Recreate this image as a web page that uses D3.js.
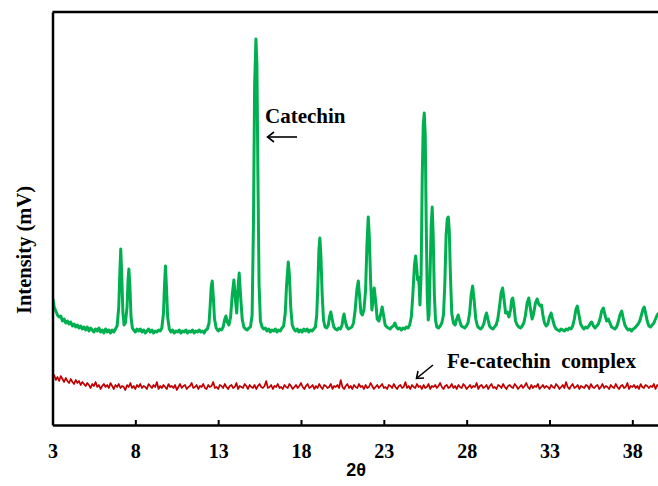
<!DOCTYPE html>
<html><head><meta charset="utf-8">
<script src="https://cdn.jsdelivr.net/npm/d3@7"></script>
<style>
html,body{margin:0;padding:0;background:#fff;}
svg{display:block;}
</style></head>
<body>
<svg id="chart" width="658" height="486"></svg>
<script>
// ---- data ----
const xTickValues = [3, 8, 13, 18, 23, 28, 33, 38];
const xDomain = [3, 39.55];
const yDomain = [0, 413];
const seriesNames = ["Catechin", "Fe-catechin  complex"];

// Catechin pattern: [2θ, intensity]
const catechin = [
[3.0,127],[3.05,124],[3.1,118],[3.2,114],[3.3,110],[3.4,108],[3.5,109],[3.6,104],[3.7,106],[3.8,102],[3.9,104],[4.0,101],[4.1,103],[4.2,99],[4.3,101],[4.4,98],[4.5,100],[4.6,97],[4.7,99],[4.8,96],[4.9,98],[5.0,95],[5.1,98],[5.2,94],[5.3,97],[5.4,95],[5.5,93],[5.6,96],[5.7,94],[5.8,97],[5.9,93],[6.0,95],[6.1,92],[6.2,96],[6.3,93],[6.4,95],[6.5,92],[6.6,95],[6.7,93],[6.8,96],[6.9,99],
[7.0,118],[7.06,150],[7.12,176],[7.18,150],[7.25,112],[7.32,100],[7.4,102],[7.5,118],[7.56,145],[7.61,156],[7.67,140],[7.74,108],[7.82,97],[7.9,95],[8.0,93],[8.1,96],[8.2,94],[8.3,96],[8.4,93],[8.5,95],[8.6,92],[8.7,94],[8.8,96],[8.9,93],[9.0,95],[9.1,92],[9.2,94],[9.3,93],[9.4,95],[9.5,94],[9.6,97],
[9.7,112],[9.76,140],[9.82,159],[9.88,138],[9.95,108],[10.05,96],[10.15,93],[10.25,95],[10.35,92],[10.45,94],[10.55,93],[10.65,95],[10.75,92],[10.85,94],[10.95,93],[11.05,95],[11.15,92],[11.25,94],[11.35,93],[11.45,95],[11.55,92],[11.65,94],[11.75,93],[11.85,95],[11.95,93],[12.05,94],[12.15,92],[12.25,95],[12.35,96],
[12.45,102],[12.52,120],[12.58,138],[12.64,144],[12.7,130],[12.78,106],[12.88,97],[13.0,94],[13.1,96],[13.2,95],[13.3,98],[13.4,106],[13.47,109],[13.55,103],[13.65,100],[13.75,108],[13.85,130],[13.95,145],[14.05,124],[14.12,112],[14.2,138],[14.27,152],[14.35,130],[14.45,106],[14.55,98],[14.65,96],[14.75,95],[14.85,97],[14.95,98],
[15.05,110],[15.13,200],[15.2,340],[15.28,386],[15.34,360],[15.4,250],[15.47,140],[15.55,104],[15.65,98],[15.75,96],[15.85,97],[15.95,94],[16.05,96],[16.15,93],[16.25,95],[16.35,94],[16.45,96],[16.55,93],[16.65,95],[16.75,94],[16.85,97],[16.95,99],
[17.05,112],[17.13,140],[17.23,163],[17.3,150],[17.38,118],[17.47,100],[17.57,96],[17.67,94],[17.77,96],[17.87,93],[17.97,95],[18.07,93],[18.17,96],[18.27,94],[18.37,96],[18.47,93],[18.57,95],[18.67,94],[18.77,96],[18.87,98],
[18.95,110],[19.02,140],[19.08,175],[19.14,187],[19.2,170],[19.28,130],[19.36,105],[19.45,98],[19.55,97],[19.65,100],[19.72,108],[19.8,113],[19.88,106],[19.98,98],[20.08,96],[20.18,95],[20.28,97],[20.38,96],[20.48,100],[20.55,108],[20.6,111],[20.67,104],[20.77,98],[20.87,96],[20.97,97],[21.07,98],
[21.17,102],[21.27,115],[21.37,135],[21.46,144],[21.54,128],[21.62,112],[21.7,110],[21.8,115],[21.9,135],[21.98,180],[22.06,208],[22.12,190],[22.2,145],[22.28,115],[22.35,125],[22.42,137],[22.5,125],[22.6,106],[22.7,104],[22.8,110],[22.9,118],[22.98,110],[23.08,100],[23.18,98],[23.28,97],[23.38,96],[23.48,98],[23.58,99],[23.67,102],[23.76,98],[23.86,96],[23.96,97],[24.06,95],[24.16,97],[24.26,96],[24.36,98],[24.46,97],[24.56,100],
[24.66,108],[24.75,130],[24.85,160],[24.92,169],[24.98,158],[25.04,145],[25.08,148],[25.13,140],[25.18,120],[25.25,150],[25.32,250],[25.38,300],[25.44,312],[25.5,290],[25.56,200],[25.62,130],[25.68,105],[25.73,110],[25.79,150],[25.86,200],[25.92,218],[25.98,190],[26.05,130],[26.12,105],[26.2,98],[26.3,97],[26.4,99],[26.5,102],
[26.6,110],[26.68,140],[26.76,190],[26.83,206],[26.89,208],[26.95,195],[27.02,150],[27.1,112],[27.2,102],[27.3,100],[27.4,106],[27.49,110],[27.58,104],[27.68,99],[27.78,98],[27.88,97],[27.98,99],[28.08,102],[28.18,112],[28.27,130],[28.36,139],[28.45,125],[28.55,106],[28.65,99],[28.75,97],[28.85,96],[28.95,98],[29.05,102],[29.12,108],[29.2,112],[29.28,106],[29.38,99],[29.48,97],[29.58,96],[29.68,98],[29.78,100],
[29.88,106],[29.98,118],[30.08,132],[30.17,137],[30.26,125],[30.35,112],[30.45,113],[30.55,108],[30.65,115],[30.72,125],[30.78,127],[30.86,118],[30.95,104],[31.05,100],[31.15,98],[31.25,97],[31.35,99],[31.45,102],[31.55,110],[31.65,122],[31.75,127],[31.85,116],[31.95,106],[32.05,112],[32.15,122],[32.25,126],[32.35,121],[32.45,119],[32.52,120],[32.6,110],[32.7,102],[32.8,99],[32.9,101],[33.0,108],[33.1,112],[33.2,105],[33.3,99],
[33.4,96],[33.5,95],[33.6,94],[33.7,96],[33.8,95],[33.9,94],[34.0,96],[34.1,95],[34.2,97],[34.3,96],[34.4,99],[34.5,106],[34.6,116],[34.68,119],[34.78,110],[34.88,101],[34.98,98],[35.08,96],[35.18,98],[35.28,97],[35.38,99],[35.48,102],[35.55,103],[35.65,99],[35.75,97],[35.85,99],[35.95,101],[36.05,106],[36.15,114],[36.25,117],[36.35,110],[36.45,104],[36.55,106],[36.65,102],[36.75,98],[36.85,97],[36.95,96],
[37.05,98],[37.15,103],[37.25,110],[37.36,114],[37.45,107],[37.55,100],[37.65,97],[37.75,95],[37.85,96],[37.95,94],[38.05,96],[38.15,97],[38.25,99],[38.35,101],[38.45,104],[38.55,110],[38.65,116],[38.72,118],[38.8,112],[38.9,104],[39.0,99],[39.1,98],[39.2,100],[39.3,102],[39.4,106],[39.5,110],[39.6,112]
];

// Fe-catechin complex: uniformly sampled readings (step 0.1 from 3.0)
const complexStart = 3.0;
const complexStep = 0.1;
const complexValues = [
46,50,45,48,44,49,46,43,47,44,42,46,43,41,45,42,44,40,43,41,
39,42,40,37,41,39,43,38,40,36,39,41,38,40,37,42,39,36,40,38,
41,37,39,38,35,40,38,42,37,39,36,40,38,41,37,39,38,36,41,39,
37,40,38,43,36,39,37,40,38,36,41,38,39,37,40,35,38,41,37,39,
40,36,38,39,42,37,38,40,36,39,38,41,37,36,40,38,39,43,37,38,
36,40,39,37,41,38,36,39,40,37,38,42,36,39,38,37,41,39,36,40,
38,37,40,36,39,41,38,37,39,44,37,38,40,36,39,38,41,37,38,36,
40,38,37,41,39,36,38,40,37,39,42,38,36,39,41,37,38,40,36,39,
37,41,38,36,40,39,37,38,41,36,39,38,40,37,45,38,36,39,41,37,
39,36,40,38,37,41,38,39,36,40,37,38,42,39,36,38,40,37,39,41,
37,38,36,40,39,37,41,38,36,39,40,37,38,43,37,39,36,40,38,37,
41,38,39,36,40,37,38,41,36,39,38,40,37,39,42,38,36,39,40,37,
38,41,37,39,36,40,38,37,41,39,36,38,40,37,39,38,42,36,39,40,
37,38,40,36,39,41,37,38,36,40,39,37,41,38,36,39,40,38,37,41,
39,36,38,40,37,39,42,38,36,40,37,39,38,41,36,38,40,37,39,38,
36,40,38,37,41,39,36,38,40,37,43,38,36,39,41,37,38,40,36,39,
38,37,40,39,36,41,38,37,39,40,36,38,41,37,39,38,36,40,38,37,
41,38,36,39,40,37,38,42,36,39,38,40,37,39,36,41,38,37,40,39,
37,39,38,41,36,40,38,37,39,36
];

// ---- drawing ----
const svg = d3.select("#chart");
const x = d3.scaleLinear().domain(xDomain).range([52.5, 658]);
const y = d3.scaleLinear().domain(yDomain).range([425, 12]);

const defs = svg.append("defs");
defs.append("clipPath").attr("id","plotclip")
  .append("rect").attr("x",53).attr("y",12).attr("width",610).attr("height",413);

const line = d3.line().x(d => x(d[0])).y(d => y(d[1])).curve(d3.curveLinear);

const complexData = complexValues.map((v,i) => [complexStart + i*complexStep, v]);

const g = svg.append("g").attr("clip-path","url(#plotclip)");
g.append("path").datum(complexData).attr("d", line)
  .attr("fill","none").attr("stroke","#C00000").attr("stroke-width",1.7).attr("stroke-linejoin","round");
g.append("path").datum(catechin).attr("d", line)
  .attr("fill","none").attr("stroke","#00B050").attr("stroke-width",3).attr("stroke-linejoin","round");

// top border
svg.append("line").attr("x1",x(xDomain[0])).attr("x2",658).attr("y1",y(yDomain[1])).attr("y2",y(yDomain[1]))
  .attr("stroke","#000").attr("stroke-width",2.5);

// x axis
const serif = "'Liberation Serif', 'Times New Roman', serif";
const xAxis = d3.axisBottom(x).tickValues(xTickValues).tickFormat(d3.format("d"))
  .tickSizeInner(-5).tickSizeOuter(0).tickPadding(19);
const xg = svg.append("g").attr("transform","translate(0,425)").call(xAxis);
xg.select(".domain").attr("stroke","#000").attr("stroke-width",2.5);
xg.selectAll(".tick line").attr("stroke","#000").attr("stroke-width",2);
xg.selectAll(".tick text").attr("font-family",serif)
  .attr("font-weight","bold").attr("font-size",20).attr("fill","#000");

// y axis (no ticks)
const yAxis = d3.axisLeft(y).tickValues([]).tickSizeOuter(0);
const yg = svg.append("g").attr("transform","translate(52.5,0)").call(yAxis);
yg.select(".domain").attr("stroke","#000").attr("stroke-width",2.5);

// axis titles
svg.append("text").attr("x",356).attr("y",476).attr("text-anchor","middle")
  .attr("font-family","'Liberation Sans', Arial, sans-serif").attr("font-weight","bold").attr("font-size",18)
  .text("2θ");
svg.append("text").attr("transform","translate(31,250) rotate(-90)").attr("text-anchor","middle")
  .attr("font-family",serif).attr("font-weight","bold").attr("font-size",20.5)
  .text("Intensity (mV)");

// annotations
svg.append("text").attr("x",265).attr("y",123).attr("font-family",serif).attr("font-weight","bold").attr("font-size",21)
  .text(seriesNames[0]);
svg.append("text").attr("x",447).attr("y",368).attr("font-family",serif).attr("font-weight","bold").attr("font-size",21)
  .style("white-space","pre").text(seriesNames[1]);

svg.append("line").attr("x1",297).attr("y1",137).attr("x2",268).attr("y2",137)
  .attr("stroke","#000").attr("stroke-width",1.6);
svg.append("path").attr("d","M274,132 L267.5,137 L274,142").attr("fill","none").attr("stroke","#000").attr("stroke-width",1.6);

svg.append("line").attr("x1",433).attr("y1",365).attr("x2",417).attr("y2",378)
  .attr("stroke","#000").attr("stroke-width",1.6);
svg.append("path").attr("d","M418,371 L416.5,378.5 L424,378").attr("fill","none").attr("stroke","#000").attr("stroke-width",1.6);
</script>
</body></html>
